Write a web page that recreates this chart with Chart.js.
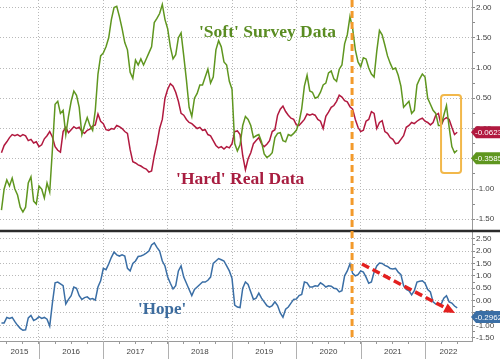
<!DOCTYPE html>
<html>
<head>
<meta charset="utf-8">
<script src="https://cdn.jsdelivr.net/npm/chart.js@4.4.0/dist/chart.umd.min.js"></script>
<style>
  html, body { margin: 0; padding: 0; background: #fff; }
</style>
</head>
<body>
<canvas id="chart" width="500" height="359"></canvas>
<script>
// readings taken twice a month, starting 1 Jun 2015
const START = 2015 + 5 / 12;

const soft = [
  -1.35, -1.0, -0.85, -0.95, -0.82, -1.0, -1.1, -1.3, -1.38, -1.3,
  -0.9, -0.8, -1.2, -1.25, -0.95, -1.0, -1.15, -0.9, -1.05, -0.35,
  0.4, 0.45, 0.25, 0.3, -0.1, 0.2, 0.45, 0.62, 0.55, 0.35,
  -0.1, 0.05, 0.18, 0.05, -0.03, 0.3, 0.9, 1.2, 1.25, 1.35,
  1.5, 1.8, 2.0, 2.02, 1.85, 1.65, 1.42, 1.3, 0.93, 0.83,
  1.13, 1.05, 1.15, 1.05, 1.15, 1.25, 1.35, 1.75, 1.82, 1.9,
  2.05, 1.8, 1.65, 1.35, 1.15, 1.22, 1.5, 1.58, 1.2, 0.8,
  0.35, 0.2, 0.5, 0.58, 0.72, 0.72, 0.85, 0.98, 0.75, 0.85,
  1.3, 1.45, 1.35, 1.1, 1.05, 0.78, 0.65, -0.25, -0.37, -0.27,
  0.05, 0.2, 0.15, 0.05, -0.15, -0.12, -0.1, -0.22, -0.42, -0.48,
  -0.45, -0.4, -0.15, -0.08, -0.07, -0.2, -0.22, -0.1, -0.12, -0.08,
  -0.03, 0.1, 0.33, 0.7, 0.88, 0.62, 0.6, 0.5, 0.52, 0.6,
  0.72, 0.75, 0.92, 0.95, 0.82, 0.78, 0.98, 1.05, 1.4, 1.55,
  1.85, 1.65, 1.3, 1.1, 1.02, 1.17, 1.15, 1.0, 0.9, 0.85,
  1.28, 1.62, 1.55, 1.38, 1.2, 1.08, 0.98, 1.0, 0.88, 0.7,
  0.35, 0.4, 0.45, 0.25, 0.3, 0.72, 0.82, 0.9, 0.85, 0.5,
  0.4, 0.3, 0.25, 0.05, 0.05, 0.22, 0.38, 0.02, -0.3, -0.4,
  -0.3585
];

const hard = [
  -0.4, -0.28, -0.22, -0.15, -0.1, -0.12, -0.1, -0.13, -0.1, -0.12,
  -0.2, -0.18, -0.24, -0.22, -0.3, -0.27, -0.17, -0.12, -0.05, -0.14,
  -0.3, -0.36, -0.39, -0.05, 0.02, -0.07, -0.02, 0.03, 0.0, 0.02,
  -0.05, -0.08, -0.03, -0.01, 0.04, 0.06, 0.24, 0.12, 0.08, -0.02,
  -0.03, 0.0, -0.01, 0.05, 0.03, 0.0, -0.05, -0.08, -0.35, -0.55,
  -0.57, -0.6, -0.62, -0.65, -0.67, -0.72, -0.7, -0.45, -0.25, 0.0,
  0.15, 0.5, 0.65, 0.74, 0.7, 0.6, 0.45, 0.25, 0.22, 0.15,
  0.1, 0.08, 0.04, 0.0, 0.02, -0.03, -0.02, -0.1, -0.12, -0.2,
  -0.28, -0.32, -0.3, -0.34, -0.3, -0.32, -0.25, -0.05, -0.04, -0.1,
  -0.45, -0.68, -0.5, -0.4, -0.25, -0.2, -0.15, -0.25, -0.3, -0.26,
  -0.2, -0.05, -0.02, 0.22, 0.32, 0.37, 0.28, 0.22, 0.17, 0.15,
  0.06, 0.05, 0.1, 0.15, 0.24, 0.22, 0.24, 0.22, 0.15, 0.12,
  0.0, 0.2, 0.27, 0.35, 0.38, 0.45, 0.55, 0.52, 0.46, 0.44,
  0.36, 0.32, 0.15, 0.02, -0.05, -0.03, 0.12, 0.15, 0.28, 0.25,
  0.0, 0.1, 0.13, -0.05, -0.08, -0.15, -0.18, -0.25, -0.24, -0.18,
  -0.12, 0.02, 0.05, 0.1, 0.08, 0.12, 0.15, 0.17, 0.12, 0.1,
  0.06, 0.1, 0.22, 0.25, 0.05, 0.15, 0.18, 0.15, 0.02, -0.1,
  -0.0623
];

const hope = [
  -0.9, -0.9, -0.68, -0.72, -0.68, -0.85, -1.0, -1.12, -1.2, -1.18,
  -0.7, -0.6, -0.8, -0.75, -0.65, -0.72, -0.68, -0.75, -1.03, -0.1,
  0.72, 0.75, 0.68, 0.6, -0.14, 0.05, 0.2, 0.55, 0.5, 0.2,
  0.05, 0.12, 0.15, 0.06, 0.08, 0.02, 0.55, 0.8, 1.3, 1.25,
  1.48, 1.75, 1.96, 1.85, 1.8, 1.85, 1.8, 1.3, 1.2, 1.5,
  1.6, 1.78, 1.8, 1.85, 1.92, 2.0, 2.25, 2.33, 2.15, 2.0,
  1.6, 1.4, 0.95, 0.7, 0.47, 0.6, 1.2, 1.4, 0.95, 0.7,
  0.45, 0.2, 0.45, 0.55, 0.65, 0.75, 0.75, 0.82, 0.95, 1.5,
  1.6, 1.7, 1.65, 1.6, 1.4, 1.2, 0.9, -0.18, -0.26, -0.28,
  0.5, 0.75, 0.65, 0.35, 0.05, 0.1, 0.3, 0.1, -0.05, -0.2,
  -0.26, -0.2, -0.05, -0.2, -0.5, -0.67, -0.35, -0.26, -0.1, 0.05,
  0.06, 0.2, 0.25, 0.75, 0.72, 0.55, 0.55, 0.6, 0.58, 0.72,
  0.65, 0.55, 0.6, 0.58, 0.5, 0.48, 0.35, 0.4, 1.0, 1.2,
  1.48, 1.1, 1.0, 1.05, 1.2, 1.15, 0.95, 0.7, 0.75, 1.15,
  1.4, 1.52, 1.5, 1.42, 1.38, 1.3, 1.28, 1.3, 1.15, 1.05,
  0.6, 0.45, 0.4, 0.23, 0.4, 0.75, 0.78, 0.8, 0.7, 0.45,
  0.35, -0.05, -0.14, -0.12, -0.15, 0.1, 0.2, -0.05, -0.1, -0.22,
  -0.2962
];

const years = ['2015', '2016', '2017', '2018', '2019', '2020', '2021', '2022'];
const topTicks = [-1.5, -1.25, -1, -0.75, -0.5, -0.25, 0, 0.25, 0.5, 0.75, 1, 1.25, 1.5, 1.75, 2];
const botTicks = [-1.5, -1.25, -1, -0.75, -0.5, -0.25, 0, 0.25, 0.5, 0.75, 1, 1.25, 1.5, 1.75, 2, 2.25, 2.5];

const X_MIN = 2015.394, X_MAX = 2022.73;
const TOP_MIN = -1.694, TOP_MAX = 2.124;
const BOT_MIN = -1.632, BOT_MAX = 2.812;
const ELECTION = 2020.866;

const GREEN = '#5f961f', RED = '#b1193f', BLUE = '#3a6ea5';
const TICK_FONT = { family: '"Liberation Sans", Arial, sans-serif', size: 8 };

const dates = soft.map((_, i) => START + i / 24);
const pts = arr => arr.map((v, i) => ({ x: dates[i], y: v }));
const isHalf = v => Math.abs(v * 2 - Math.round(v * 2)) < 1e-6;
const isYear = t => t && !t.lbl && Math.abs(t.value - Math.round(t.value)) < 1e-6;

const overlay = {
  id: 'overlay',
  afterDatasetsDraw(chart) {
    const { ctx, chartArea: ca, scales: { x, yTop, yBot } } = chart;
    ctx.save();

    // panel separator
    ctx.strokeStyle = '#2b2b2b';
    ctx.lineWidth = 2.5;
    ctx.beginPath();
    ctx.moveTo(0, yTop.bottom);
    ctx.lineTo(chart.width, yTop.bottom);
    ctx.stroke();

    // election line
    const ex = x.getPixelForValue(ELECTION);
    ctx.strokeStyle = '#f39a2b';
    ctx.lineWidth = 3;
    ctx.setLineDash([7, 4]);
    ctx.beginPath();
    ctx.moveTo(ex, ca.top);
    ctx.lineTo(ex, ca.bottom - 3);
    ctx.stroke();
    ctx.setLineDash([]);

    // highlight box on the latest readings
    const bx1 = x.getPixelForValue(2022.249), bx2 = x.getPixelForValue(2022.56);
    const by1 = yTop.getPixelForValue(0.554), by2 = yTop.getPixelForValue(-0.736);
    ctx.strokeStyle = '#f2b84b';
    ctx.lineWidth = 2;
    ctx.beginPath();
    ctx.roundRect(bx1, by1, bx2 - bx1, by2 - by1, 3);
    ctx.stroke();

    // falling hope arrow
    const ax1 = x.getPixelForValue(2021.02), ay1 = yBot.getPixelForValue(1.48);
    const ax2 = x.getPixelForValue(2022.467), ay2 = yBot.getPixelForValue(-0.5);
    const ang = Math.atan2(ay2 - ay1, ax2 - ax1);
    const head = 11;
    ctx.strokeStyle = '#e3201f';
    ctx.fillStyle = '#e3201f';
    ctx.lineWidth = 3.5;
    ctx.setLineDash([8, 4]);
    ctx.beginPath();
    ctx.moveTo(ax1, ay1);
    ctx.lineTo(ax2 - head * Math.cos(ang), ay2 - head * Math.sin(ang));
    ctx.stroke();
    ctx.setLineDash([]);
    ctx.beginPath();
    ctx.moveTo(ax2, ay2);
    ctx.lineTo(ax2 - head * Math.cos(ang) + 5 * Math.sin(ang), ay2 - head * Math.sin(ang) - 5 * Math.cos(ang));
    ctx.lineTo(ax2 - head * Math.cos(ang) - 5 * Math.sin(ang), ay2 - head * Math.sin(ang) + 5 * Math.cos(ang));
    ctx.closePath();
    ctx.fill();

    // series names
    ctx.textBaseline = 'middle';
    ctx.textAlign = 'left';
    ctx.font = 'bold 17.5px "Liberation Serif", serif';
    ctx.fillStyle = '#5a8c22';
    ctx.fillText("'Soft' Survey Data", x.getPixelForValue(2018.487), yTop.getPixelForValue(1.595));
    ctx.fillStyle = '#a81d40';
    ctx.fillText("'Hard' Real Data", x.getPixelForValue(2018.13), yTop.getPixelForValue(-0.85));
    ctx.font = 'bold 17px "Liberation Serif", serif';
    ctx.fillStyle = '#3d6c9e';
    ctx.fillText("'Hope'", x.getPixelForValue(2017.54), yBot.getPixelForValue(-0.38));
    ctx.restore();
  },
  afterDraw(chart) {
    const { ctx, chartArea: ca, scales: { x, yTop, yBot } } = chart;
    ctx.save();
    // long year separators under the axis
    ctx.strokeStyle = '#b0b0b0';
    ctx.lineWidth = 1;
    for (let yr = 2016; yr <= 2022; yr++) {
      const px = Math.round(x.getPixelForValue(yr)) + 0.5;
      ctx.beginPath();
      ctx.moveTo(px, ca.bottom);
      ctx.lineTo(px, chart.height);
      ctx.stroke();
    }
    // last-value tags
    const tag = (py, text, color) => {
      ctx.fillStyle = color;
      ctx.beginPath();
      ctx.moveTo(ca.right - 1, py);
      ctx.lineTo(ca.right + 4, py - 6);
      ctx.lineTo(chart.width, py - 6);
      ctx.lineTo(chart.width, py + 6);
      ctx.lineTo(ca.right + 4, py + 6);
      ctx.closePath();
      ctx.fill();
      ctx.fillStyle = '#fff';
      ctx.font = '8px "Liberation Sans", Arial, sans-serif';
      ctx.textBaseline = 'middle';
      ctx.textAlign = 'left';
      ctx.fillText(text, ca.right + 3, py + 0.5);
    };
    const last = a => a[a.length - 1];
    const redY = yTop.getPixelForValue(last(hard));
    const greenY = Math.max(yTop.getPixelForValue(last(soft)), redY + 26);
    tag(redY, last(hard).toFixed(4), RED);
    tag(greenY, last(soft).toFixed(4), GREEN);
    tag(yBot.getPixelForValue(last(hope)) + 9, last(hope).toFixed(4), BLUE);
    ctx.restore();
  }
};

const line = (data, color, axis) => ({
  data: pts(data),
  yAxisID: axis,
  borderColor: color,
  borderWidth: 1.5,
  pointRadius: 0,
  tension: 0,
  fill: false
});

const yScale = (min, max, ticks, weight) => ({
  type: 'linear',
  position: 'right',
  stack: 'panels',
  stackWeight: weight,
  min, max,
  afterFit: s => { s.width = 28; s.paddingTop = 0; s.paddingBottom = 0; },
  afterBuildTicks: s => { s.ticks = ticks.map(v => ({ value: v })); },
  ticks: {
    callback: v => isHalf(v) ? v.toFixed(2) : '',
    font: TICK_FONT,
    color: '#444',
    padding: 1,
    autoSkip: false
  },
  grid: {
    color: c => (c.tick && isHalf(c.tick.value)) ? '#b9b9b9' : 'rgba(0,0,0,0)',
    tickColor: '#8a8a8a',
    tickLength: 3
  },
  border: { display: true, color: '#9a9a9a', dash: [1, 2] }
});

new Chart(document.getElementById('chart').getContext('2d'), {
  type: 'line',
  data: {
    datasets: [
      line(soft, GREEN, 'yTop'),
      line(hard, RED, 'yTop'),
      line(hope, BLUE, 'yBot')
    ]
  },
  options: {
    responsive: false,
    animation: false,
    events: [],
    layout: { padding: 0 },
    plugins: { legend: { display: false }, tooltip: { enabled: false } },
    scales: {
      x: {
        type: 'linear',
        min: X_MIN,
        max: X_MAX,
        afterFit: s => { s.height = 18; s.paddingLeft = 0; s.paddingRight = 0; },
        afterBuildTicks: s => {
          const t = [];
          for (let q = 2015.5; q < X_MAX; q += 0.25) t.push({ value: q });
          years.forEach((y, i) => {
            const a = Math.max(+y, X_MIN), b = Math.min(+y + 1, X_MAX);
            t.push({ value: (a + b) / 2, lbl: y });
          });
          t.sort((p, q) => p.value - q.value);
          s.ticks = t;
        },
        ticks: {
          callback: (v, i, t) => t[i].lbl || '',
          font: TICK_FONT,
          color: '#444',
          maxRotation: 0,
          autoSkip: false,
          padding: 3
        },
        grid: {
          color: c => isYear(c.tick) ? '#b9b9b9' : 'rgba(0,0,0,0)',
          tickColor: c => (c.tick && c.tick.lbl) ? 'rgba(0,0,0,0)' : '#9a9a9a',
          tickLength: 3
        },
        border: { display: true, color: '#9a9a9a', dash: [1, 2] }
      },
      yTop: yScale(TOP_MIN, TOP_MAX, topTicks, 231),
      yBot: yScale(BOT_MIN, BOT_MAX, botTicks, 110)
    }
  },
  plugins: [overlay]
});
</script>
</body>
</html>
